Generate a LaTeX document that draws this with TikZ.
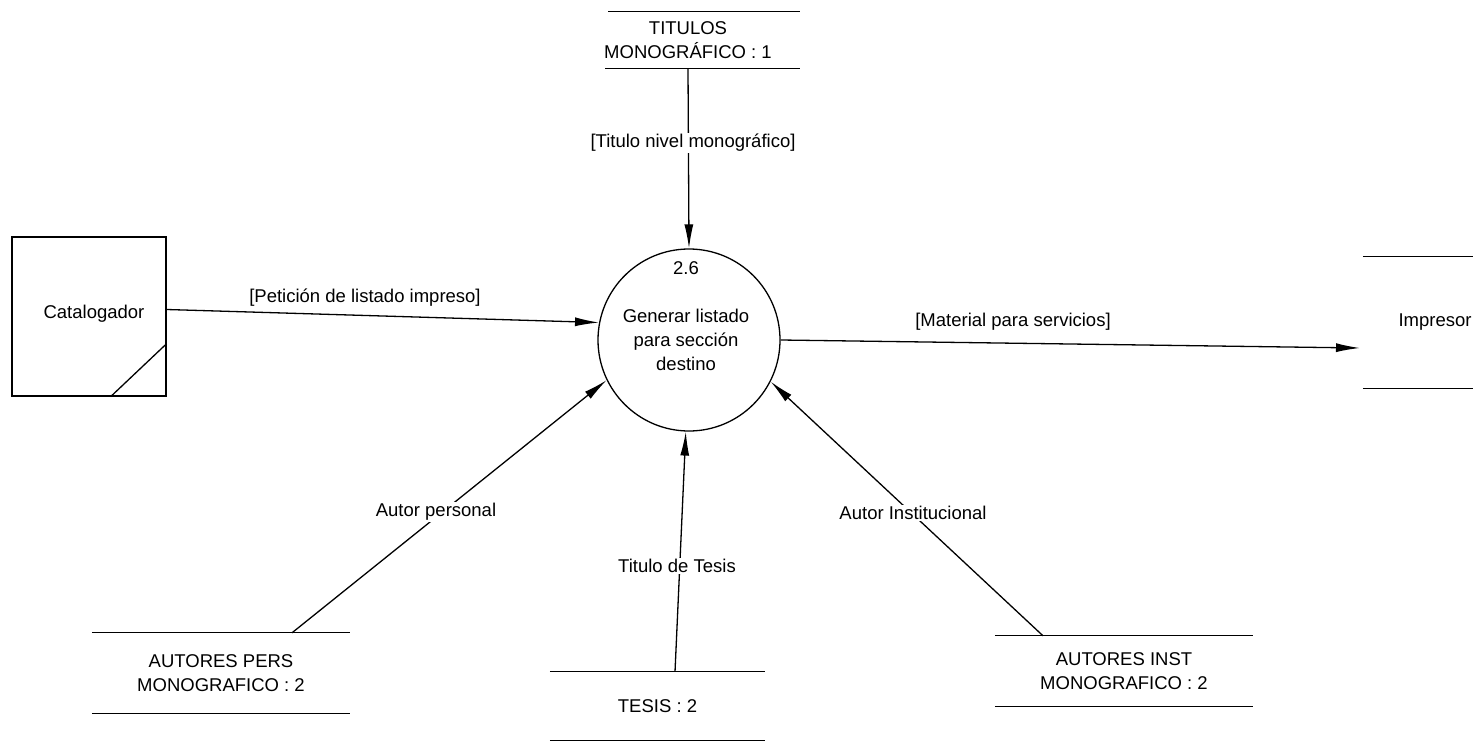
\documentclass[tikz,border=0pt]{standalone}
\usepackage{fontspec}
\setmainfont{Liberation Sans}
\usetikzlibrary{arrows.meta}
\begin{document}
\begin{tikzpicture}[x=1pt,y=-1pt,
  every node/.style={font=\fontsize{18.5}{24}\selectfont, inner sep=0pt},
  line/.style={line width=1.3pt},
  flow/.style={line width=1.3pt, -{Latex[length=24pt,width=9pt]}},
  lbl/.style={fill=white, inner sep=1pt},
  storetext/.style={align=center}
]
\useasboundingbox (0,0) rectangle (1473,741);
% process
\node[circle, draw, line width=1.3pt, minimum size=182pt] (p) at (689,340) {};
\node (pnum) at (686,268) {2.6};
\node[align=center] (ptxt) at (686,340) {Generar listado\\para sección\\destino};
% Catalogador
\node[draw, line width=1.3pt, minimum width=154pt, minimum height=159pt] (cat) at (89,316.5) {};
\node (cattxt) at (94,314) {Catalogador};
\draw[line] ([xshift=-56pt]cat.south east) -- ([yshift=53pt]cat.south east);
% Impresor
\node[minimum width=110pt, minimum height=131pt] (imp) at (1418,322.5) {};
\node (imptxt) at (1435,322) {Impresor};
\draw[line] (imp.north west) -- (imp.north east);
\draw[line] (imp.south west) -- (imp.south east);
\coordinate (impin) at (1360,348);
% TITULOS
\node[storetext, minimum height=56pt] (tt) at (688,40) {TITULOS\\MONOGRÁFICO : 1};
\draw[line] ([xshift=-80pt]tt.north) -- ([xshift=112pt]tt.north);
\draw[line] ([xshift=-83pt]tt.south) -- ([xshift=112pt]tt.south);
% AUTORES PERS
\node[storetext, minimum width=258pt, minimum height=80pt] (ap) at (221,673) {AUTORES PERS\\MONOGRAFICO : 2};
\draw[line] (ap.north west) -- (ap.north east);
\draw[line] (ap.south west) -- (ap.south east);
% TESIS
\node[minimum width=215pt, minimum height=68pt] (ts) at (657.5,706) {TESIS : 2};
\draw[line] (ts.north west) -- (ts.north east);
\draw[line] (ts.south west) -- (ts.south east);
% AUTORES INST
\node[storetext, minimum width=258pt, minimum height=70pt] (ai) at (1124,671) {AUTORES INST\\MONOGRAFICO : 2};
\draw[line] (ai.north west) -- (ai.north east);
\draw[line] (ai.south west) -- (ai.south east);
% flows
\draw[flow] (tt.south) -- (p.north);
\node[lbl] (l1) at (693,143) {[Titulo nivel monográfico]};
\draw[flow] ([yshift=7pt]cat.east) -- (p.169);
\node (l2) at (365,298) {[Petición de listado impreso]};
\draw[flow] (p.east) -- (impin);
\node (l3) at (1013,322) {[Material para servicios]};
\draw[flow] ([xshift=71pt]ap.north) -- (p.206);
\node[lbl] (l4) at (436,512) {Autor personal};
\draw[flow] ([xshift=17.5pt]ts.north) -- (p.268);
\node[lbl] (l5) at (677,566) {Titulo de Tesis};
\draw[flow] ([xshift=-81pt]ai.north) -- (p.333);
\node[lbl] (l6) at (913,513) {Autor Institucional};
\end{tikzpicture}
\end{document}
